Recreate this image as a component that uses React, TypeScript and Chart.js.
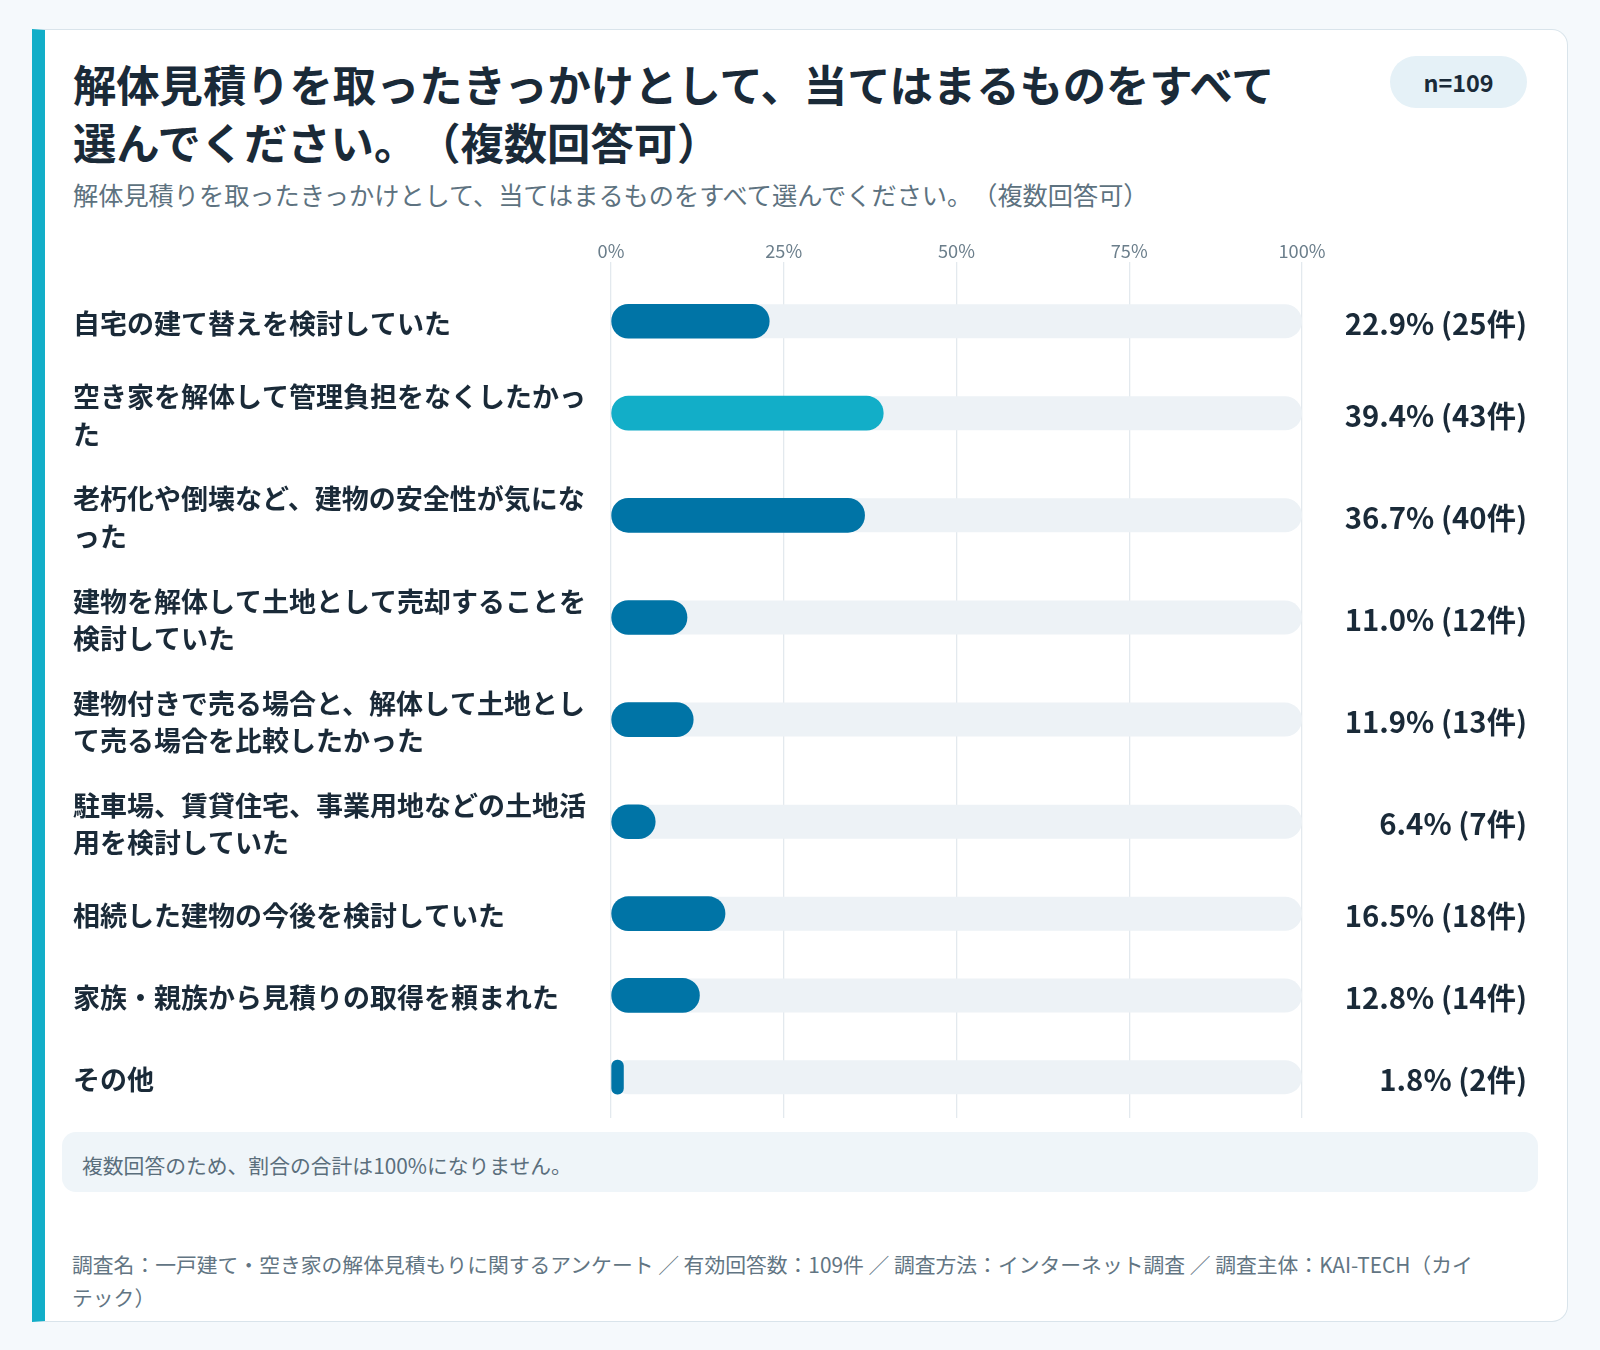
import { useEffect, useRef } from "react";
import { Chart, registerables, type ChartConfiguration, type Plugin } from "chart.js";

Chart.register(...registerables);

// 設問・サンプル
const TITLE =
  "解体見積りを取ったきっかけとして、当てはまるものをすべて選んでください。（複数回答可）";
const SAMPLE_N = 109;
const NOTE = "複数回答のため、割合の合計は100%になりません。";
const FOOTER =
  "調査名：一戸建て・空き家の解体見積もりに関するアンケート ／ 有効回答数：109件 ／ 調査方法：インターネット調査 ／ 調査主体：KAI-TECH（カイテック）";

const CATEGORIES = [
  "自宅の建て替えを検討していた",
  "空き家を解体して管理負担をなくしたかった",
  "老朽化や倒壊など、建物の安全性が気になった",
  "建物を解体して土地として売却することを検討していた",
  "建物付きで売る場合と、解体して土地として売る場合を比較したかった",
  "駐車場、賃貸住宅、事業用地などの土地活用を検討していた",
  "相続した建物の今後を検討していた",
  "家族・親族から見積りの取得を頼まれた",
  "その他",
];
const PERCENTS = [22.9, 39.4, 36.7, 11.0, 11.9, 6.4, 16.5, 12.8, 1.8];
const COUNTS = [25, 43, 40, 12, 13, 7, 18, 14, 2];
const X_TICKS = [0, 25, 50, 75, 100];

// 見た目
const FONT = "'Noto Sans CJK JP', 'Noto Sans', sans-serif";
const DARK = "#1a2a38";
const BAR = "#0074a6";
const BAR_TOP = "#12aec8";
const TRACK = "#edf2f6";
const GRID = "#e3e9ee";
const WRAP_CHARS = 19;

function wrap(s: string): string[] {
  const out: string[] = [];
  for (let i = 0; i < s.length; i += WRAP_CHARS) out.push(s.slice(i, i + WRAP_CHARS));
  return out;
}

// 行の高さは折り返し行数で変わる（1行=4, 2行=5 の比）
const LINES = CATEGORIES.map(wrap);
const ROW_UNITS = LINES.map((l) => (l.length === 1 ? 4 : 5));
const CENTERS: number[] = [];
let acc = 0;
for (const u of ROW_UNITS) {
  CENTERS.push(acc + u / 2);
  acc += u;
}
const TOTAL = acc;
const TOP_GAP = 0.9;

const VALUE_TEXT = PERCENTS.map((p, i) => `${p.toFixed(1)}% (${COUNTS[i]}件)`);

const CANVAS_W = 1454;
const CANVAS_H = 890;

const trackPlugin: Plugin<"bar"> = {
  id: "track",
  beforeDatasetsDraw(chart) {
    const { ctx } = chart;
    const x = chart.scales.x;
    const left = x.getPixelForValue(x.min);
    const right = x.getPixelForValue(x.max);
    ctx.save();
    ctx.fillStyle = TRACK;
    chart.getDatasetMeta(0).data.forEach((el: any) => {
      const h = el.height;
      ctx.beginPath();
      ctx.roundRect(left, el.y - h / 2, right - left, h, h / 2);
      ctx.fill();
    });
    ctx.restore();
  },
};

function rowAxis(position: "left" | "right", texts: (string | string[])[], width: number, size: number) {
  return {
    type: "linear" as const,
    position,
    reverse: true,
    offset: false,
    min: -TOP_GAP,
    max: TOTAL,
    afterBuildTicks: (s: any) => {
      s.ticks = CENTERS.map((v) => ({ value: v }));
    },
    afterFit: (s: any) => {
      s.width = width;
      s.paddingTop = 0;
      s.paddingBottom = 0;
    },
    grid: { display: false, offset: false },
    border: { display: false },
    ticks: {
      autoSkip: false,
      padding: 0,
      labelOffset: 2.5,
      crossAlign: "far" as const,
      callback: (_v: any, i: number) => texts[i],
      color: DARK,
      font: { family: FONT, size, weight: "bold" as const, lineHeight: 1.38 },
    },
  };
}

function buildConfig(): ChartConfiguration<"bar"> {
  const top = Math.max(...PERCENTS);
  return {
    type: "bar",
    data: {
      datasets: [
        {
          data: PERCENTS.map((p, i) => ({ x: p, y: CENTERS[i] })) as any,
          backgroundColor: PERCENTS.map((p) => (p === top ? BAR_TOP : BAR)),
          barThickness: 34,
          borderRadius: 17,
          borderSkipped: false,
        },
      ],
    },
    options: {
      indexAxis: "y",
      responsive: false,
      animation: false,
      layout: { padding: 0 },
      plugins: { legend: { display: false }, tooltip: { enabled: false } },
      scales: {
        x: {
          type: "linear",
          position: "top",
          min: 0,
          max: 100,
          afterBuildTicks: (s: any) => {
            s.ticks = X_TICKS.map((v) => ({ value: v }));
          },
          afterFit: (s: any) => {
            s.height = 34;
          },
          grid: { color: GRID, lineWidth: 1.3, drawTicks: false },
          border: { display: false },
          ticks: {
            padding: 0,
            callback: (v: any) => `${v}%`,
            color: "#6b7e8b",
            font: { family: FONT, size: 18.2 },
          },
        },
        y: rowAxis("left", LINES, 538, 27) as any,
        y2: rowAxis("right", VALUE_TEXT, 225, 29.3) as any,
      },
    },
    plugins: [trackPlugin],
  };
}

function BarChart() {
  const canvasRef = useRef<HTMLCanvasElement>(null);
  useEffect(() => {
    const canvas = canvasRef.current;
    if (!canvas) return;
    const chart = new Chart(canvas, buildConfig());
    return () => chart.destroy();
  }, []);
  return (
    <canvas
      ref={canvasRef}
      width={CANVAS_W}
      height={CANVAS_H}
      style={{ position: "absolute", left: 73, top: 228, width: CANVAS_W, height: CANVAS_H }}
    />
  );
}

export default function App() {
  return (
    <div
      style={{
        position: "fixed",
        inset: 0,
        background: "#f5f9fc",
        fontFamily: FONT,
        overflow: "hidden",
      }}
    >
      <style>{"* { text-spacing-trim: space-all; }"}</style>
      <div
        style={{
          position: "absolute",
          left: 32,
          top: 29,
          width: 1536,
          height: 1293,
          boxSizing: "border-box",
          background: "#ffffff",
          border: "1.5px solid #d9e4eb",
          borderLeft: `13px solid ${BAR_TOP}`,
          borderRadius: "0 16px 16px 0",
        }}
      />
      <h1
        style={{
          position: "absolute",
          left: 73,
          top: 54,
          width: 1230,
          margin: 0,
          fontSize: 43.3,
          fontWeight: 700,
          lineHeight: "58px",
          color: DARK,
        }}
      >
        {TITLE}
      </h1>
      <div
        style={{
          position: "absolute",
          left: 1390,
          top: 56,
          width: 137,
          height: 52,
          borderRadius: 26,
          background: "#e5f1f7",
          display: "flex",
          alignItems: "center",
          justifyContent: "center",
          fontSize: 23.4,
          fontWeight: 700,
          color: DARK,
        }}
      >
        n={SAMPLE_N}
      </div>
      <div
        style={{
          position: "absolute",
          left: 73,
          top: 177,
          width: 1300,
          fontSize: 25.2,
          lineHeight: "34px",
          color: "#5d7280",
          whiteSpace: "nowrap",
        }}
      >
        {TITLE}
      </div>
      <BarChart />
      <div
        style={{
          position: "absolute",
          left: 62,
          top: 1132,
          width: 1476,
          height: 60,
          boxSizing: "border-box",
          borderRadius: 14,
          background: "#eff5f9",
          padding: "18px 20px 0",
          fontSize: 20.8,
          lineHeight: "30px",
          color: "#5a6e7c",
        }}
      >
        {NOTE}
      </div>
      <div
        style={{
          position: "absolute",
          left: 72,
          top: 1248,
          width: 1420,
          fontSize: 20.8,
          lineHeight: "33px",
          color: "#627583",
        }}
      >
        {FOOTER}
      </div>
    </div>
  );
}
